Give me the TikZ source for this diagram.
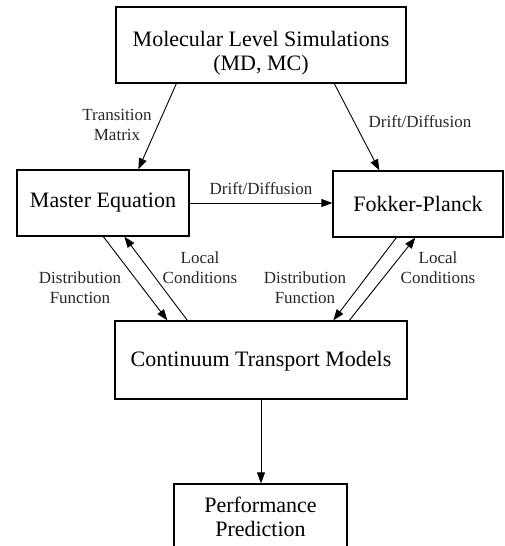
\documentclass[tikz,border=0pt]{standalone}
\usepackage{fontspec}
\setmainfont{Liberation Serif}
\usetikzlibrary{arrows.meta,calc}
\begin{document}
\begin{tikzpicture}[x=1pt,y=-1pt,
  box/.style={draw, line width=1.3pt, inner sep=0pt},
  big/.style={font=\fontsize{22}{24}\selectfont, align=center, inner sep=0pt},
  small/.style={font=\fontsize{17}{20}\selectfont, align=center, inner sep=0pt, text=black!85},
  arr/.style={line width=0.9pt, -{Triangle[length=11pt,width=8pt]}}]
\useasboundingbox (0,0) rectangle (504,546);
\begin{scope}
\clip (0,0) rectangle (504,546);
% boxes
\node[box, minimum width=290pt, minimum height=76pt] (top) at (261,45) {};
\node[big] (toptxt) at (261,53) {Molecular Level Simulations\\(MD, MC)};
\node[box, minimum width=172pt, minimum height=66pt] (me) at (103,203) {};
\node[big] (metxt) at (103,203) {Master Equation};
\node[box, minimum width=170pt, minimum height=66pt] (fp) at (418,204) {};
\node[big] (fptxt) at (418,204) {Fokker-Planck};
\node[box, minimum width=292pt, minimum height=78pt] (ct) at (261,360) {};
\node[big] (cttxt) at (261,361) {Continuum Transport Models};
\node[box, minimum width=173pt, minimum height=70pt] (pp) at (260.5,519) {};
\node[big] (pptxt) at (260.5,517) {Performance\\Prediction};
% arrows from top
\draw[arr] ([xshift=61pt]top.south west) -- ([xshift=122pt]me.north west);
\draw[arr] ([xshift=219pt]top.south west) -- ([xshift=47pt]fp.north west);
\node[small] (tm) at (117,125) {Transition\\Matrix};
\node[small] (dd1) at (420,122) {Drift/Diffusion};
% horizontal
\draw[arr] (me.east) -- (fp.west |- me.east);
\node[small] (dd2) at (261,189) {Drift/Diffusion};
% left pair
\draw[arr] ([xshift=87pt]me.south west) -- ([xshift=53pt]ct.north west);
\draw[arr] ([xshift=73pt]ct.north west) -- ([xshift=108pt]me.south west);
\node[small] (df1) at (80,288) {Distribution\\Function};
\node[small] (lc1) at (200,268) {Local\\Conditions};
% right pair
\draw[arr] ([xshift=64pt]fp.south west) -- ([xshift=219pt]ct.north west);
\draw[arr] ([xshift=235pt]ct.north west) -- ([xshift=83pt]fp.south west);
\node[small] (df2) at (305,288) {Distribution\\Function};
\node[small] (lc2) at (438,268) {Local\\Conditions};
% down
\draw[arr] (ct.south) -- (ct.south |- pp.north);
\end{scope}
\end{tikzpicture}
\end{document}
